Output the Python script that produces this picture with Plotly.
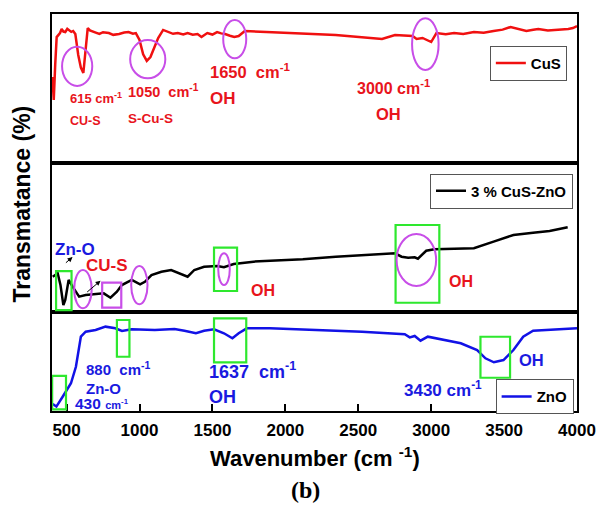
import plotly.graph_objects as go
from plotly.subplots import make_subplots

# ---- FTIR spectra (wavenumber in cm-1, transmittance in arbitrary % per panel) ----
cus_wn = [403, 412, 422, 432, 455, 466, 478, 491, 505, 518, 532, 545, 560, 580, 598, 615, 628, 645,
          660, 675, 700, 725, 750, 790, 820, 860, 895, 925, 955, 975, 1000, 1025, 1050, 1075, 1100,
          1128, 1162, 1196, 1230, 1263, 1300, 1330, 1365, 1398, 1425, 1440, 1465, 1500, 1532, 1560,
          1587, 1620, 1650, 1680, 1722, 1870, 2075, 2345, 2663, 2752, 2873, 2900, 2941, 3000, 3036,
          3100, 3157, 3220, 3293, 3360, 3428, 3490, 3545, 3599, 3653, 3700, 3735, 3800, 3884, 3940,
          3972, 4000]
cus_t = [57.7, 42.3, 66.0, 84.5, 87.2, 89.9, 88.2, 87.9, 90.1, 89.3, 88.0, 88.6, 86.6, 72.5, 64.0,
         60.4, 72.5, 90.6, 89.0, 88.6, 87.5, 86.6, 87.8, 87.2, 86.0, 86.6, 87.6, 87.9, 86.8, 87.2,
         82.6, 73.0, 68.5, 71.1, 77.5, 83.9, 89.3, 87.9, 86.7, 87.2, 86.3, 87.2, 86.1, 86.6, 84.6,
         85.6, 87.2, 86.2, 87.9, 87.0, 86.6, 85.4, 84.6, 85.2, 88.6, 87.9, 87.2, 85.9, 83.2, 85.9,
         85.2, 83.2, 83.9, 81.2, 87.2, 86.5, 87.2, 86.6, 87.9, 87.4, 88.6, 89.5, 91.3, 89.9, 88.6,
         89.4, 89.9, 89.0, 89.3, 90.0, 90.6, 91.9]

mix_wn = [405, 439, 458, 478, 491, 514, 541, 586, 631, 721, 755, 801, 845, 879, 947, 1004, 1037,
          1082, 1150, 1217, 1263, 1330, 1376, 1443, 1533, 1579, 1646, 1782, 2120, 2346, 2752, 2797,
          2842, 2887, 2909, 2966, 3022, 3293, 3428, 3564, 3699, 3812, 3936]
mix_t = [23.7, 26.0, 18.1, 4.7, 8.1, 21.5, 17.0, 10.3, 11.4, 12.5, 12.5, 9.6, 13.6, 18.1, 21.5,
         18.6, 20.3, 24.8, 27.0, 28.2, 26.4, 23.7, 28.2, 30.4, 30.9, 30.0, 32.2, 33.8, 35.4, 37.1,
         39.4, 37.1, 36.4, 36.7, 35.8, 41.1, 42.1, 42.8, 47.2, 51.7, 53.2, 54.4, 56.9]

zno_wn = [405, 430, 473, 530, 564, 598, 631, 699, 767, 834, 880, 947, 1105, 1240, 1308, 1387, 1443,
          1511, 1579, 1637, 1680, 1736, 1894, 2075, 2346, 2526, 2819, 2853, 2887, 2927, 2977, 3090,
          3203, 3315, 3372, 3430, 3496, 3564, 3631, 3699, 3880, 4000]
zno_t = [7.0, 4.5, 14.4, 28.0, 44.7, 75.1, 80.1, 81.8, 85.2, 83.5, 80.8, 82.5, 81.8, 82.8, 81.1,
         78.5, 81.1, 82.5, 78.5, 73.4, 78.5, 83.5, 83.5, 82.5, 80.8, 80.1, 77.5, 74.4, 75.8, 71.0,
         75.1, 71.7, 68.4, 61.6, 53.2, 49.2, 51.5, 61.6, 75.1, 81.1, 82.5, 83.5]

x_ticks = [500, 1000, 1500, 2000, 2500, 3000, 3500, 4000]

RED = "#f01010"
RED_TXT = "#e8141c"
BLUE = "#1212e6"
BLUE_TXT = "#1a1ae0"
PURPLE = "#c84ee8"
GREEN = "#2ee82e"
FONT = "Liberation Sans, Arial, sans-serif"

fig = make_subplots(rows=3, cols=1, shared_xaxes=True, vertical_spacing=0,
                    row_heights=[149, 149, 99])

fig.add_trace(go.Scatter(x=cus_wn, y=cus_t, mode="lines", name="<b>CuS</b>",
                         line=dict(color=RED, width=2.5), legend="legend"), row=1, col=1)
fig.add_trace(go.Scatter(x=mix_wn, y=mix_t, mode="lines", name="<b>3 % CuS-ZnO</b>",
                         line=dict(color="black", width=2.5), legend="legend2"), row=2, col=1)
fig.add_trace(go.Scatter(x=zno_wn, y=zno_t, mode="lines", name="<b>ZnO</b>",
                         line=dict(color=BLUE, width=2.5), legend="legend3"), row=3, col=1)

# ---- axes ----
for r in (1, 2, 3):
    fig.update_yaxes(range=[0, 100], showticklabels=False, ticks="", showgrid=False,
                     zeroline=False, showline=True, mirror=True, linecolor="black",
                     linewidth=1.5, row=r, col=1)
    fig.update_xaxes(range=[400, 4000], showgrid=False, zeroline=False, showline=True,
                     mirror=True, linecolor="black", linewidth=1.5, row=r, col=1)
for r in (1, 2):
    fig.update_xaxes(ticks="", showticklabels=False, row=r, col=1)
fig.update_xaxes(ticks="inside", ticklen=7, tickwidth=1.5, tickcolor="black",
                 tickvals=x_ticks, ticktext=[f"<b>{v}</b>" for v in x_ticks],
                 tickfont=dict(family=FONT, size=17, color="black"),
                 ticklabelstandoff=3, row=3, col=1)

# ---- highlight shapes ----
def ellipse(xr, yr, x0, x1, y0, y1, color=PURPLE):
    fig.add_shape(type="circle", xref=xr, yref=yr, x0=x0, x1=x1, y0=y0, y1=y1,
                  line=dict(color=color, width=2))

def box(xr, yr, x0, x1, y0, y1, color=GREEN):
    fig.add_shape(type="rect", xref=xr, yref=yr, x0=x0, x1=x1, y0=y0, y1=y1,
                  line=dict(color=color, width=2.2))

# CuS panel
ellipse("x", "y", 469, 676, 51.7, 78.1)
ellipse("x", "y", 936, 1177, 56.8, 82.6)
ellipse("x", "y", 1574, 1732, 70.3, 96.0)
ellipse("x", "y", 2869, 3051, 62.4, 97.1)
# composite panel
box("x2", "y2", 428, 534, 1.3, 27.5)
ellipse("x2", "y2", 552, 672, 2.5, 28.2)
box("x2", "y2", 744, 875, 2.9, 19.7, color=PURPLE)
ellipse("x2", "y2", 943, 1055, 5.2, 30.9)
box("x2", "y2", 1511, 1669, 14.1, 43.2)
ellipse("x2", "y2", 1540, 1619, 18.1, 39.4)
box("x2", "y2", 2756, 3056, 6.2, 58.4)
ellipse("x2", "y2", 2763, 3034, 17.4, 52.3)
# ZnO panel
box("x3", "y3", 401, 496, 1.7, 35.4)
box("x3", "y3", 845, 931, 54.8, 91.9)
box("x3", "y3", 1511, 1732, 49.2, 93.6)
box("x3", "y3", 3338, 3541, 33.6, 75.0)

# ---- peak labels ----
def label(xr, yr, x, y, text, size, color, anchor="left"):
    fig.add_annotation(xref=xr, yref=yr, x=x, y=y, text=f"<b>{text}</b>", showarrow=False,
                       xanchor=anchor, yanchor="middle",
                       font=dict(family=FONT, size=size, color=color))

label("x", "y", 512, 43.5, "615 cm<sup>-1</sup>", 13, RED_TXT)
label("x", "y", 512, 28.4, "CU-S", 12.5, RED_TXT)
label("x", "y", 906, 48.5, "1050  cm<sup>-1</sup>", 14.5, RED_TXT)
label("x", "y", 906, 30.2, "S-Cu-S", 13.5, RED_TXT)
label("x", "y", 1470, 62.0, "1650  cm<sup>-1</sup>", 16.5, RED_TXT)
label("x", "y", 1470, 43.6, "OH", 17, RED_TXT)
label("x", "y", 2476, 50.8, "3000 cm<sup>-1</sup>", 16, RED_TXT)
label("x", "y", 2605, 32.8, "OH", 16.5, RED_TXT)

label("x2", "y2", 405, 41.7, "Zn-O", 17, BLUE_TXT)
label("x2", "y2", 620, 31.4, "CU-S", 17, RED_TXT)
label("x2", "y2", 1748, 14.4, "OH", 16, RED_TXT)
label("x2", "y2", 3108, 20.3, "OH", 16, RED_TXT)

label("x3", "y3", 620, 43.0, "880  cm<sup>-1</sup>", 15, BLUE_TXT)
label("x3", "y3", 620, 23.0, "Zn-O", 15, BLUE_TXT)
label("x3", "y3", 541, 8.0, "430 <span style='font-size:11px'>cm<sup>-1</sup></span>", 15.5,
      BLUE_TXT)
label("x3", "y3", 1466, 41.0, "1637  cm<sup>-1</sup>", 18, BLUE_TXT)
label("x3", "y3", 1466, 14.1, "OH", 18, BLUE_TXT)
label("x3", "y3", 3586, 51.5, "OH", 16.5, BLUE_TXT)
label("x3", "y3", 2801, 22.0, "3430 cm<sup>-1</sup>", 17, BLUE_TXT)

# pointer arrows in the composite panel
for (tx, ty, hx, hy) in [(485, 32.2, 541, 36.9), (631, 12.6, 733, 21.0)]:
    fig.add_annotation(xref="x2", yref="y2", axref="x2", ayref="y2", x=hx, y=hy, ax=tx, ay=ty,
                       text="", showarrow=True, arrowhead=2, arrowsize=1, arrowwidth=1,
                       arrowcolor="black")

# ---- axis titles and panel tag ----
fig.add_annotation(xref="paper", yref="paper", x=0.5, y=-0.116, xanchor="center",
                   yanchor="middle", showarrow=False,
                   text="<b>Wavenumber (cm <sup>-1</sup>)</b>",
                   font=dict(family=FONT, size=22, color="black"))
fig.add_annotation(xref="paper", yref="paper", x=-0.0563, y=0.521, xanchor="center",
                   yanchor="middle", showarrow=False, textangle=-90,
                   text="<b>Transmatance (%)</b>",
                   font=dict(family=FONT, size=23, color="black"))
fig.add_annotation(xref="paper", yref="paper", x=0.482, y=-0.199, xanchor="center",
                   yanchor="middle", showarrow=False, text="<b>(b)</b>",
                   font=dict(family="Liberation Serif, Times New Roman, serif", size=24,
                             color="black"))

legend_style = dict(xanchor="left", yanchor="top", bgcolor="white", bordercolor="#555555",
                    borderwidth=1, font=dict(family=FONT, size=15, color="black"),
                    itemwidth=30, tracegroupgap=0)

fig.update_layout(
    width=608, height=505,
    margin=dict(l=52, r=23, t=14, b=94),
    paper_bgcolor="white", plot_bgcolor="white",
    showlegend=True,
    legend=dict(x=0.834, y=0.920, **legend_style),
    legend2=dict(x=0.720, y=0.598, **legend_style),
    legend3=dict(x=0.845, y=0.080, **legend_style),
)

fig.write_html("out.html")
